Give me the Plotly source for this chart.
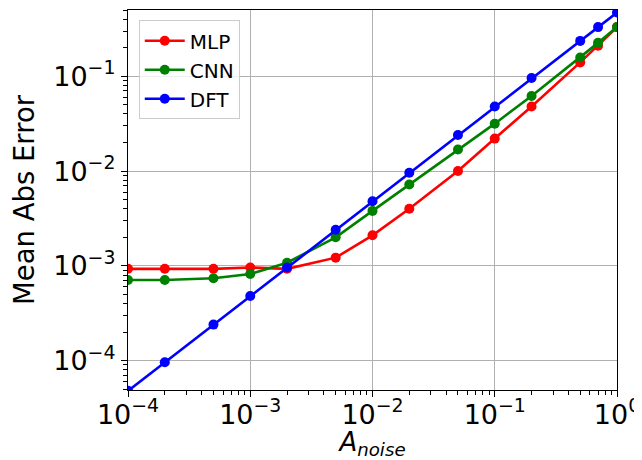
import plotly.graph_objects as go
import numpy as np

A_noise = [1e-4, 2e-4, 5e-4, 1e-3, 2e-3, 5e-3, 1e-2, 2e-2, 5e-2, 0.1, 0.2, 0.5, 0.7, 1.0]
mlp = [9.3e-4, 9.3e-4, 9.3e-4, 9.6e-4, 9.3e-4, 1.22e-3, 2.1e-3, 4.0e-3, 1.0e-2, 0.022, 0.048, 0.14, 0.21, 0.33]
cnn = [7.1e-4, 7.1e-4, 7.4e-4, 8.2e-4, 1.08e-3, 2.0e-3, 3.8e-3, 7.2e-3, 0.0169, 0.0316, 0.062, 0.158, 0.225, 0.33]
dft = [4.8e-5, 9.6e-5, 2.4e-4, 4.8e-4, 9.6e-4, 2.4e-3, 4.8e-3, 9.6e-3, 0.024, 0.048, 0.096, 0.236, 0.33, 0.47]

series = [("MLP", mlp, "#ff0000"), ("CNN", cnn, "#008000"), ("DFT", dft, "#0000ff")]

x_ticks = [1e-4, 1e-3, 1e-2, 1e-1, 1]
x_ticktext = ["10<sup>−4</sup>", "10<sup>−3</sup>", "10<sup>−2</sup>", "10<sup>−1</sup>", "10<sup>0</sup>"]
y_ticks = [1e-4, 1e-3, 1e-2, 1e-1]
y_ticktext = ["10<sup>−4</sup>", "10<sup>−3</sup>", "10<sup>−2</sup>", "10<sup>−1</sup>"]

fig = go.Figure()
for name, vals, col in series:
    fig.add_trace(go.Scatter(x=A_noise, y=vals, mode="lines+markers", name=name,
                             line=dict(color=col, width=2.6),
                             marker=dict(color=col, size=10)))

minor_x = [m * 10.0**e for e in range(-4, 0) for m in range(2, 10)]
minor_y = [m * 10.0**e for e in range(-5, 0) for m in range(2, 10)]

font = "DejaVu Sans, sans-serif"
axis_common = dict(type="log", showline=True, linecolor="black", linewidth=1.3, mirror=True,
                   ticks="outside", ticklen=6, tickwidth=1.2, tickcolor="black",
                   showgrid=True, gridcolor="#b0b0b0", gridwidth=1, zeroline=False,
                   automargin=False,
                   tickfont=dict(size=27, color="black", family=font))

fig.update_xaxes(**axis_common, range=[-4, 0], tickmode="array", tickvals=x_ticks, ticktext=x_ticktext,
                 ticklabelstandoff=-6,
                 minor=dict(tickmode="array", tickvals=minor_x, ticks="outside", ticklen=3.5,
                            tickcolor="black", showgrid=False),
                 title=dict(text="<i>A<sub>noise</sub></i>", font=dict(size=26, color="black", family=font), standoff=10))
fig.update_yaxes(**axis_common, range=[np.log10(4.9e-5), np.log10(0.5)], tickmode="array",
                 tickvals=y_ticks, ticktext=y_ticktext,
                 minor=dict(tickmode="array", tickvals=minor_y, ticks="outside", ticklen=3.5,
                            tickcolor="black", showgrid=False),
                 title=dict(text="Mean Abs Error", font=dict(size=27.5, color="black", family=font), standoff=14))

# page body has an 8px margin; size the figure so the plot area lands where the reference has it
fig.update_layout(width=634, height=452, margin=dict(l=120, r=25, t=2, b=70),
                  plot_bgcolor="white", paper_bgcolor="white",
                  font=dict(family=font, color="black"),
                  legend=dict(x=0.022, y=0.973, xanchor="left", yanchor="top",
                              bgcolor="rgba(255,255,255,0.8)", bordercolor="#cccccc", borderwidth=1,
                              font=dict(size=20, family=font), tracegroupgap=0, itemwidth=40))

fig.write_html("out.html")
